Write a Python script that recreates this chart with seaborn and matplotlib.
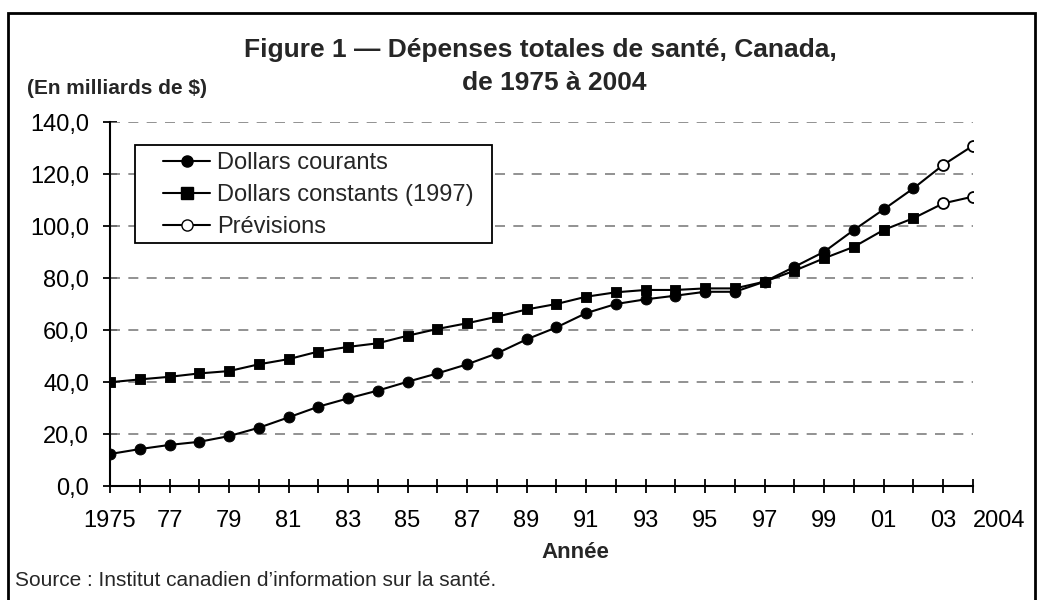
import matplotlib
matplotlib.use("Agg")
import matplotlib.pyplot as plt
import seaborn as sns
import pandas as pd
from matplotlib.lines import Line2D
from matplotlib.patches import Rectangle

sns.set_theme(style="white")
plt.rcParams['font.family'] = ['Liberation Sans', 'DejaVu Sans']

# données (milliards de $)
years = list(range(1975, 2005))
current_dollars = [12.3, 14.2, 15.8, 17.0, 19.2, 22.4, 26.4, 30.5, 33.7, 36.7,
                   40.1, 43.3, 46.8, 51.0, 56.4, 61.0, 66.5, 70.0, 71.8, 73.2,
                   74.7, 74.7, 78.6, 84.3, 90.1, 98.5, 106.4, 114.5, 123.5, 130.9]
constant_dollars = [39.9, 41.0, 42.0, 43.3, 44.2, 46.8, 48.8, 51.7, 53.5, 54.9,
                    57.8, 60.4, 62.6, 65.1, 67.9, 70.0, 72.8, 74.5, 75.4, 75.4,
                    76.0, 76.0, 78.6, 82.8, 87.6, 92.0, 98.5, 103.0, 108.7, 111.3]
forecast_years = [2003, 2004]
series_names = ["Dollars courants", "Dollars constants (1997)", "Prévisions"]
y_ticks = [0, 20, 40, 60, 80, 100, 120, 140]
x_tick_labels = ["1975", "", "77", "", "79", "", "81", "", "83", "", "85", "", "87", "",
                 "89", "", "91", "", "93", "", "95", "", "97", "", "99", "", "01", "",
                 "03", "2004"]

df = pd.DataFrame({
    "year": years * 2,
    "value": current_dollars + constant_dollars,
    "serie": [series_names[0]] * len(years) + [series_names[1]] * len(years),
})
df["prev"] = df["year"].isin(forecast_years)

W, H = 1043, 600
fig = plt.figure(figsize=(W / 100, H / 100), dpi=100)
ax = fig.add_axes([110 / W, 1 - 486 / H, 863 / W, 364 / H])

# cadre autour de la figure
fig.patches.append(Rectangle((8 / W, -0.05), 1027 / W, 1.05 - 13 / H,
                             transform=fig.transFigure, fill=False,
                             edgecolor="black", linewidth=2))

for y in y_ticks[1:]:
    ax.axhline(y, color="#7f7f7f", linestyle=(0, (6, 5)), linewidth=1.2, zorder=1)

sns.lineplot(data=df, x="year", y="value", units="serie", estimator=None,
             color="black", linewidth=1.5, ax=ax, zorder=2, legend=False)

hist = df[~df["prev"]]
sns.scatterplot(data=hist[hist["serie"] == series_names[0]], x="year", y="value",
                marker="o", s=62, color="black", edgecolor="black", ax=ax, zorder=3)
sns.scatterplot(data=hist[hist["serie"] == series_names[1]], x="year", y="value",
                marker="s", s=62, color="black", edgecolor="black", ax=ax, zorder=3)
sns.scatterplot(data=df[df["prev"]], x="year", y="value", marker="o", s=62,
                color="white", edgecolor="black", linewidth=1.3, ax=ax, zorder=3)

ax.set_xlim(1975, 2004)
ax.set_ylim(0, 140)
ax.set_xticks(years)
ax.set_xticklabels(x_tick_labels)
ax.set_yticks(y_ticks)
ax.set_yticklabels([f"{v:.1f}".replace(".", ",") for v in y_ticks])
ax.get_xticklabels()[-1].set_horizontalalignment("left")
ax.tick_params(axis="both", which="major", bottom=True, left=True,
               direction="inout", length=10, width=1.3,
               colors="black", labelsize=17)
ax.tick_params(axis="x", pad=12)
ax.tick_params(axis="y", pad=10)
ax.set_xlabel("")
ax.set_ylabel("")
for side in ["top", "right"]:
    ax.spines[side].set_visible(False)
for side in ["left", "bottom"]:
    ax.spines[side].set_color("black")
    ax.spines[side].set_linewidth(1.5)

# légende : cadre dessiné à part pour avoir la marge gauche du modèle
handles = [
    Line2D([], [], color="black", lw=1.5, marker="o", markersize=8),
    Line2D([], [], color="black", lw=1.5, marker="s", markersize=8),
    Line2D([], [], color="black", lw=1.5, marker="o", markersize=8,
           markerfacecolor="white"),
]
leg = fig.legend(handles, series_names, loc="upper left",
                 bbox_to_anchor=(163 / W, 1 - 152 / H), borderaxespad=0,
                 borderpad=0, fontsize=17, frameon=False, handlelength=2.0,
                 handletextpad=0.3, labelspacing=0.43)
fig.patches.append(Rectangle((135 / W, 1 - 243 / H), 357 / W, 98 / H,
                             transform=fig.transFigure, fill=True,
                             facecolor="white", edgecolor="black",
                             linewidth=1.3, zorder=4))
leg.set_zorder(5)

fig.text(540 / W, 1 - 50 / H, "Figure 1 — Dépenses totales de santé, Canada,",
         ha="center", va="center", fontsize=19, fontweight="bold")
fig.text(554 / W, 1 - 83 / H, "de 1975 à 2004",
         ha="center", va="center", fontsize=19, fontweight="bold")
fig.text(27 / W, 1 - 89 / H, "(En milliards de $)",
         ha="left", va="center", fontsize=15, fontweight="bold")
fig.text(575 / W, 1 - 552 / H, "Année",
         ha="center", va="center", fontsize=16, fontweight="bold")
fig.text(15 / W, 1 - 580 / H,
         "Source : Institut canadien d’information sur la santé.",
         ha="left", va="center", fontsize=15)

fig.savefig("out.png", dpi=100)
